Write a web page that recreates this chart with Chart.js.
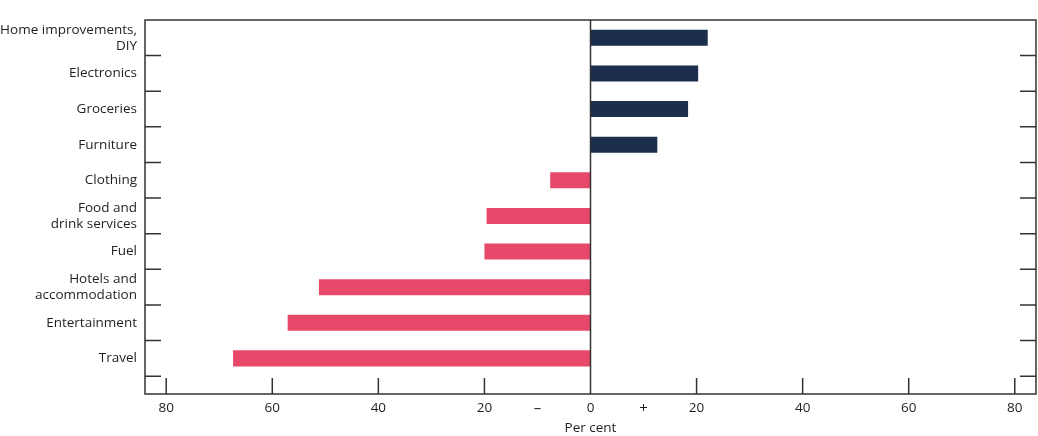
<!DOCTYPE html>
<html>
<head>
<meta charset="utf-8">
<script src="https://cdn.jsdelivr.net/npm/chart.js@4"></script>
<style>
  html, body { margin: 0; padding: 0; background: #fff; }
  #wrap { width: 1038px; height: 436px; }
</style>
</head>
<body>
<div id="wrap"><canvas id="chart"></canvas></div>
<script>
// categories, top to bottom
const categories = [
  ['Home improvements,', 'DIY'],
  'Electronics',
  'Groceries',
  'Furniture',
  'Clothing',
  ['Food and', 'drink services'],
  'Fuel',
  ['Hotels and', 'accommodation'],
  'Entertainment',
  'Travel'
];
// per cent change
const values = [22.1, 20.3, 18.4, 12.6, -7.6, -19.6, -20.0, -51.2, -57.1, -67.4];
const xTickValues = [-80, -60, -40, -20, -10, 0, 10, 20, 40, 60, 80];
const signLabels = { '-10': '–', '10': '+' };

const NAVY = '#1b2e4b';
const PINK = '#e8496b';
const AXIS = '#333333';

// short inward tick marks, zero line and frame
const innerTicks = {
  id: 'innerTicks',
  afterDatasetsDraw(chart) {
    const { ctx, chartArea: a, scales } = chart;
    const x = scales.x, y = scales.y;
    ctx.save();
    ctx.strokeStyle = AXIS;
    ctx.lineWidth = 1.5;
    ctx.beginPath();
    // category boundaries, left and right
    for (let i = 1; i <= categories.length; i++) {
      const py = y.getPixelForValue(i - 0.5);
      ctx.moveTo(a.left, py); ctx.lineTo(a.left + 16, py);
      ctx.moveTo(a.right, py); ctx.lineTo(a.right - 16, py);
    }
    // x ticks on the bottom
    xTickValues.forEach(v => {
      if (Math.abs(v) === 10 || v === 0) return;
      const px = x.getPixelForValue(v);
      ctx.moveTo(px, a.bottom); ctx.lineTo(px, a.bottom - 16);
    });
    // zero line
    const zx = x.getPixelForValue(0);
    ctx.moveTo(zx, a.top); ctx.lineTo(zx, a.bottom);
    ctx.stroke();
    ctx.strokeRect(a.left, a.top, a.right - a.left, a.bottom - a.top);
    ctx.restore();
  }
};

Chart.defaults.font.family = '"Open Sans", "Noto Sans", sans-serif';
Chart.defaults.font.size = 13.5;
Chart.defaults.color = '#1f1f1f';

new Chart(document.getElementById('chart'), {
  type: 'bar',
  data: {
    labels: categories,
    datasets: [{
      data: values,
      backgroundColor: values.map(v => v >= 0 ? NAVY : PINK),
      borderWidth: 0,
      categoryPercentage: 1,
      barPercentage: 0.45
    }]
  },
  options: {
    indexAxis: 'y',
    responsive: true,
    maintainAspectRatio: false,
    animation: false,
    layout: { padding: { top: 20, right: 2, left: 0, bottom: 0 } },
    plugins: { legend: { display: false }, tooltip: { enabled: false } },
    scales: {
      x: {
        min: -84,
        max: 84,
        afterBuildTicks(scale) {
          scale.ticks = xTickValues.map(v => ({ value: v }));
        },
        afterFit(scale) { scale.height = 42; },
        grid: { display: false, drawTicks: false },
        border: { display: false },
        ticks: {
          padding: 6,
          maxRotation: 0,
          autoSkip: false,
          font: (c) => (c.tick && Math.abs(c.tick.value) === 10) ? { size: 15 } : { size: 13.5 },
          callback(v) {
            if (signLabels[String(v)]) return signLabels[String(v)];
            return String(Math.abs(v));
          }
        },
        title: {
          display: true,
          text: 'Per cent',
          padding: { top: 2, bottom: 0 },
          font: { size: 13.5 }
        }
      },
      y: {
        // leave half an empty category below the last bar
        afterBuildTicks(scale) { scale._valueRange = categories.length + 0.5; },
        afterFit(scale) { scale.width = 145; },
        grid: { display: false, drawTicks: false },
        border: { display: false },
        ticks: { padding: 8, autoSkip: false }
      }
    }
  },
  plugins: [innerTicks]
});
</script>
</body>
</html>
